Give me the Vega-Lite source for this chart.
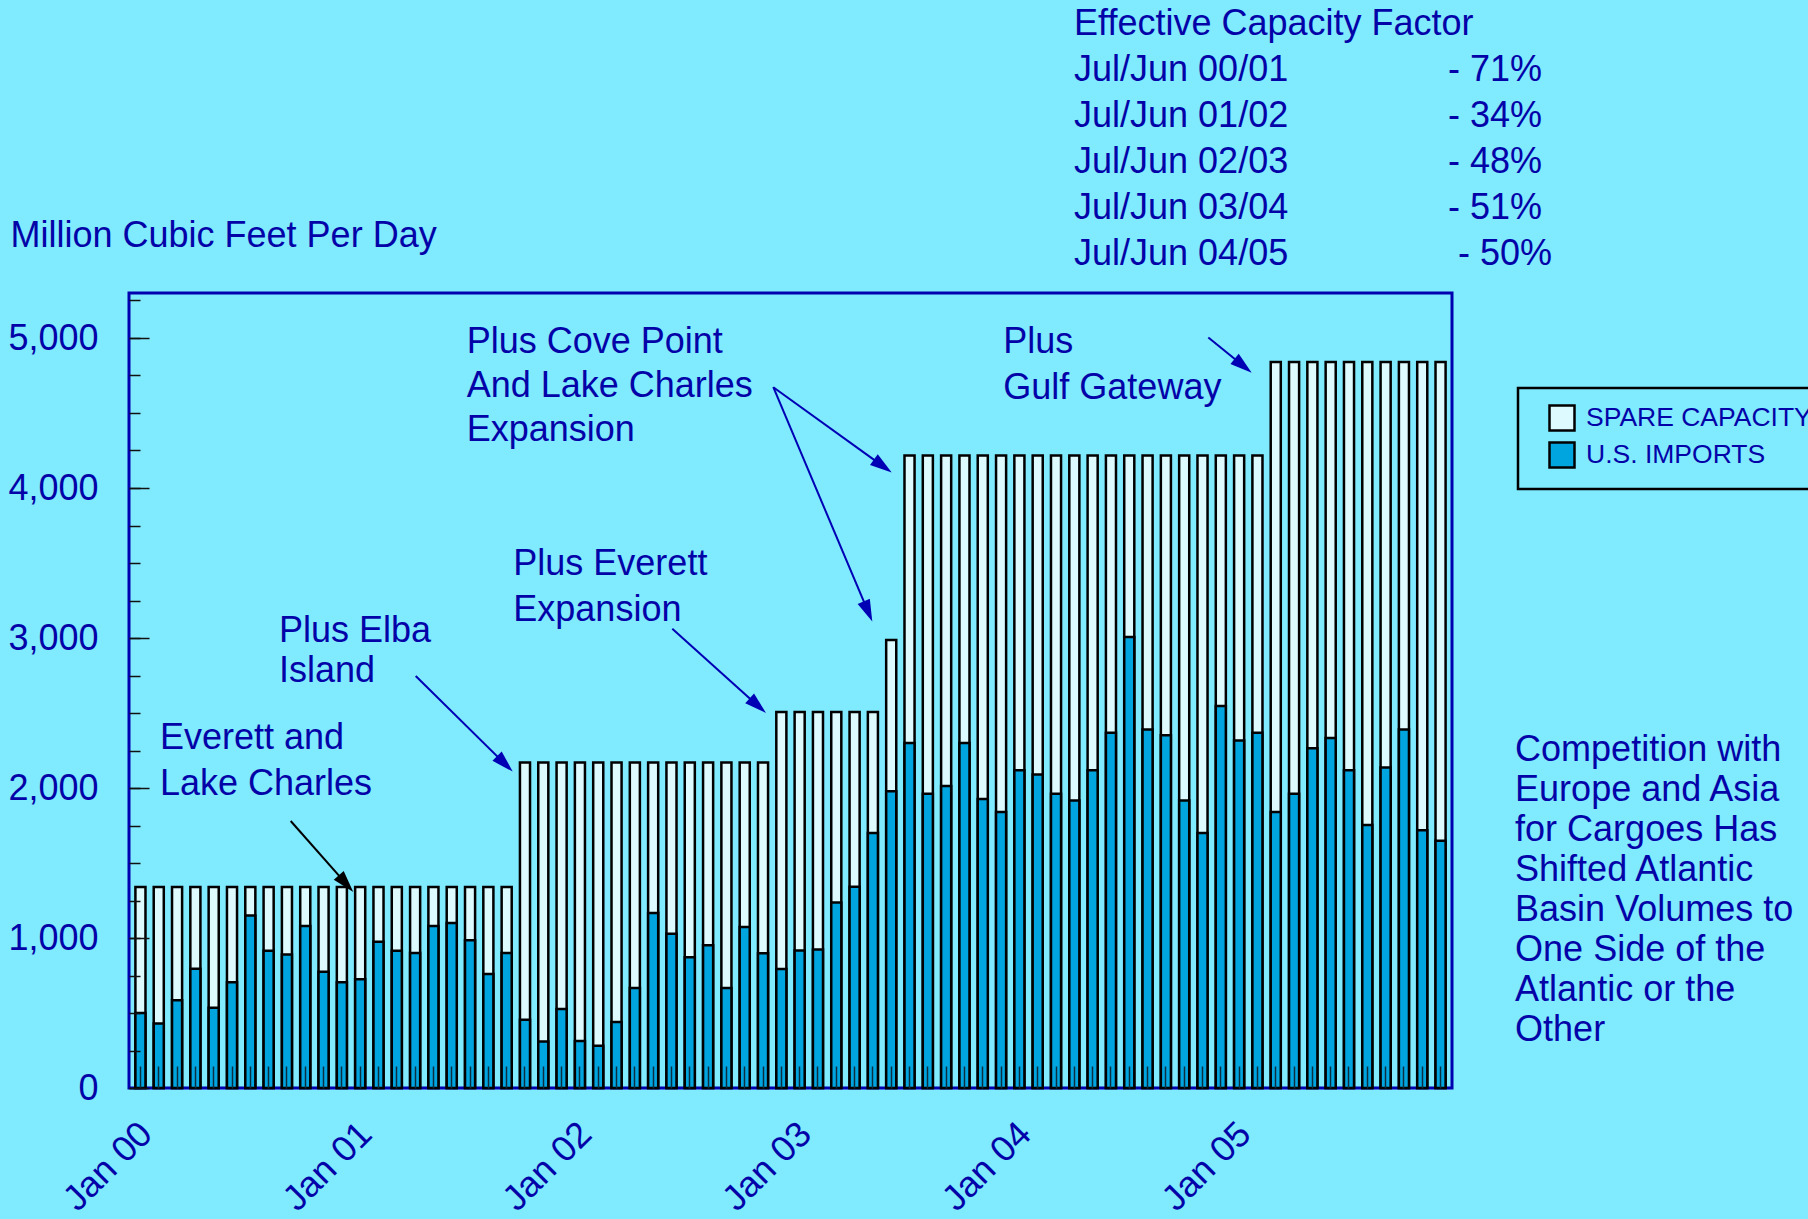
{
  "$schema": "https://vega.github.io/schema/vega-lite/v6.json",
  "width": 1323,
  "height": 795,
  "autosize": {"type": "none"},
  "padding": {"left": 129, "top": 293, "right": 356, "bottom": 131},
  "background": "#80EAFF",
  "config": {
    "font": "Liberation Sans",
    "view": {"stroke": "#0000B0", "strokeWidth": 3},
    "legend": {"strokeWidth": 2.5}
  },
  "datasets": {
    "lng": [
      {"month": "2000-01", "capacity": 1340, "imports": 500},
      {"month": "2000-02", "capacity": 1340, "imports": 430},
      {"month": "2000-03", "capacity": 1340, "imports": 585},
      {"month": "2000-04", "capacity": 1340, "imports": 795},
      {"month": "2000-05", "capacity": 1340, "imports": 535},
      {"month": "2000-06", "capacity": 1340, "imports": 705},
      {"month": "2000-07", "capacity": 1340, "imports": 1150},
      {"month": "2000-08", "capacity": 1340, "imports": 915},
      {"month": "2000-09", "capacity": 1340, "imports": 890},
      {"month": "2000-10", "capacity": 1340, "imports": 1080},
      {"month": "2000-11", "capacity": 1340, "imports": 775},
      {"month": "2000-12", "capacity": 1340, "imports": 705},
      {"month": "2001-01", "capacity": 1340, "imports": 725},
      {"month": "2001-02", "capacity": 1340, "imports": 975},
      {"month": "2001-03", "capacity": 1340, "imports": 915},
      {"month": "2001-04", "capacity": 1340, "imports": 900},
      {"month": "2001-05", "capacity": 1340, "imports": 1080},
      {"month": "2001-06", "capacity": 1340, "imports": 1100},
      {"month": "2001-07", "capacity": 1340, "imports": 985},
      {"month": "2001-08", "capacity": 1340, "imports": 760},
      {"month": "2001-09", "capacity": 1340, "imports": 900},
      {"month": "2001-10", "capacity": 2170, "imports": 455},
      {"month": "2001-11", "capacity": 2170, "imports": 310},
      {"month": "2001-12", "capacity": 2170, "imports": 526},
      {"month": "2002-01", "capacity": 2170, "imports": 314},
      {"month": "2002-02", "capacity": 2170, "imports": 282},
      {"month": "2002-03", "capacity": 2170, "imports": 440},
      {"month": "2002-04", "capacity": 2170, "imports": 666},
      {"month": "2002-05", "capacity": 2170, "imports": 1167},
      {"month": "2002-06", "capacity": 2170, "imports": 1028},
      {"month": "2002-07", "capacity": 2170, "imports": 871},
      {"month": "2002-08", "capacity": 2170, "imports": 951},
      {"month": "2002-09", "capacity": 2170, "imports": 666},
      {"month": "2002-10", "capacity": 2170, "imports": 1073},
      {"month": "2002-11", "capacity": 2170, "imports": 899},
      {"month": "2002-12", "capacity": 2507, "imports": 794},
      {"month": "2003-01", "capacity": 2507, "imports": 916},
      {"month": "2003-02", "capacity": 2507, "imports": 923},
      {"month": "2003-03", "capacity": 2507, "imports": 1237},
      {"month": "2003-04", "capacity": 2507, "imports": 1341},
      {"month": "2003-05", "capacity": 2507, "imports": 1700},
      {"month": "2003-06", "capacity": 2987, "imports": 1979},
      {"month": "2003-07", "capacity": 4217, "imports": 2300},
      {"month": "2003-08", "capacity": 4217, "imports": 1962},
      {"month": "2003-09", "capacity": 4217, "imports": 2014},
      {"month": "2003-10", "capacity": 4217, "imports": 2300},
      {"month": "2003-11", "capacity": 4217, "imports": 1927},
      {"month": "2003-12", "capacity": 4217, "imports": 1840},
      {"month": "2004-01", "capacity": 4217, "imports": 2118},
      {"month": "2004-02", "capacity": 4217, "imports": 2090},
      {"month": "2004-03", "capacity": 4217, "imports": 1962},
      {"month": "2004-04", "capacity": 4217, "imports": 1916},
      {"month": "2004-05", "capacity": 4217, "imports": 2118},
      {"month": "2004-06", "capacity": 4217, "imports": 2369},
      {"month": "2004-07", "capacity": 4217, "imports": 3007},
      {"month": "2004-08", "capacity": 4217, "imports": 2390},
      {"month": "2004-09", "capacity": 4217, "imports": 2352},
      {"month": "2004-10", "capacity": 4217, "imports": 1916},
      {"month": "2004-11", "capacity": 4217, "imports": 1700},
      {"month": "2004-12", "capacity": 4217, "imports": 2547},
      {"month": "2005-01", "capacity": 4217, "imports": 2317},
      {"month": "2005-02", "capacity": 4217, "imports": 2369},
      {"month": "2005-03", "capacity": 4840, "imports": 1840},
      {"month": "2005-04", "capacity": 4840, "imports": 1962},
      {"month": "2005-05", "capacity": 4840, "imports": 2265},
      {"month": "2005-06", "capacity": 4840, "imports": 2334},
      {"month": "2005-07", "capacity": 4840, "imports": 2118},
      {"month": "2005-08", "capacity": 4840, "imports": 1753},
      {"month": "2005-09", "capacity": 4840, "imports": 2136},
      {"month": "2005-10", "capacity": 4840, "imports": 2390},
      {"month": "2005-11", "capacity": 4840, "imports": 1718},
      {"month": "2005-12", "capacity": 4840, "imports": 1648}
    ],
    "notes46": [
      {"text": ["Everett and", "Lake Charles"], "m": 1.068, "v": 2260},
      {"text": ["Plus Everett", "Expansion"], "m": 20.362, "v": 3417},
      {"text": ["Plus", "Gulf Gateway"], "m": 47.122, "v": 4900},
      {"text": ["Effective Capacity Factor", "Jul/Jun 00/01", "Jul/Jun 01/02", "Jul/Jun 02/03", "Jul/Jun 03/04", "Jul/Jun 04/05"], "m": 50.983, "v": 7020},
      {"text": ["- 71%", "- 34%", "- 48%", "- 51%", "\u200b\u00a0- 50%"], "m": 71.408, "v": 6713}
    ],
    "notes44": [
      {"text": ["Plus Cove Point", "And Lake Charles", "Expansion"], "m": 17.817, "v": 4900}
    ],
    "notes40": [
      {"text": ["Plus Elba", "Island"], "m": 7.567, "v": 2973},
      {"text": ["Competition with", "Europe and Asia", "for Cargoes Has", "Shifted Atlantic", "Basin Volumes to", "One Side of the", "Atlantic or the", "Other"], "m": 75.07, "v": 2183}
    ],
    "arrows": [
      {"label": "Everett and Lake Charles", "m1": 8.205, "v1": 1780, "m2": 11.226, "v2": 1362, "angle": 138.6},
      {"label": "Plus Elba Island", "m1": 15.032, "v1": 2747, "m2": 19.903, "v2": 2161, "angle": 134.6},
      {"label": "Plus Everett Expansion", "m1": 29.045, "v1": 3061, "m2": 33.715, "v2": 2549, "angle": 131.9},
      {"label": "Plus Cove Point (a)", "m1": 34.561, "v1": 4672, "m2": 40.541, "v2": 4146, "angle": 125.8},
      {"label": "Plus Cove Point (b)", "m1": 34.561, "v1": 4672, "m2": 39.733, "v2": 3177, "angle": 157.1},
      {"label": "Plus Gulf Gateway", "m1": 58.318, "v1": 5003, "m2": 60.218, "v2": 4815, "angle": 129}
    ]
  },
  "layer": [
    {
      "data": {"name": "lng"},
      "mark": {"type": "bar", "stroke": "#000000", "strokeWidth": 2.5},
      "encoding": {
        "x": {
          "field": "month", "type": "ordinal",
          "scale": {"paddingInner": 0.45, "paddingOuter": 0.35},
          "axis": {
            "orient": "bottom",
            "labelExpr": "substring(datum.value,5,7)=='01' ? 'Jan ' + substring(datum.value,2,4) : ''",
            "labelAngle": -45, "labelAlign": "right", "labelBaseline": "middle",
            "labelFontSize": 36, "labelColor": "#0303A8", "labelPadding": 62, "labelOffset": 6,
            "labelOverlap": false, "labelBound": false,
            "tickSize": -22, "tickColor": "#0B2F40", "tickWidth": 1.5,
            "domain": false, "grid": false, "title": null, "zindex": 1
          }
        },
        "y": {
          "field": "capacity", "type": "quantitative",
          "scale": {"domain": [0, 5300], "nice": false, "zero": false},
          "axis": {
            "orient": "left",
            "values": [0, 1000, 2000, 3000, 4000, 5000], "format": ",d",
            "tickSize": -20, "tickColor": "#111111", "tickWidth": 1.5,
            "domain": false, "grid": false,
            "labelFontSize": 36, "labelColor": "#0303A8", "labelPadding": 51,
            "title": "Million Cubic Feet Per Day", "titleAngle": 0, "titleAlign": "left",
            "titleBaseline": "alphabetic", "titleX": -119, "titleY": -47,
            "titleFontSize": 36, "titleFontWeight": "normal", "titleColor": "#0303A8",
            "zindex": 1
          }
        },
        "color": {
          "datum": "SPARE CAPACITY",
          "scale": {"domain": ["SPARE CAPACITY", "U.S. IMPORTS"], "range": ["#DDFBFF", "#00A5E0"]},
          "legend": {
            "orient": "none", "legendX": 1389, "legendY": 95, "title": null,
            "direction": "vertical", "padding": 16, "fillColor": "#80EAFF",
            "strokeColor": "#000000",
            "symbolType": "square", "symbolSize": 625, "symbolStrokeColor": "#000000",
            "symbolStrokeWidth": 2.5, "symbolOffset": 14, "symbolOpacity": 1,
            "labelOffset": 10, "labelFontSize": 26.5, "labelColor": "#0303A8",
            "rowPadding": 1, "labelLimit": 0
          }
        }
      }
    },
    {
      "data": {"name": "lng"},
      "mark": {"type": "bar", "stroke": "#000000", "strokeWidth": 2.5},
      "encoding": {
        "x": {
          "field": "month", "type": "ordinal",
          "scale": {"paddingInner": 0.45, "paddingOuter": 0.35},
          "axis": null
        },
        "y": {
          "field": "imports", "type": "quantitative",
          "scale": {"domain": [0, 5300], "nice": false, "zero": false},
          "axis": {
            "orient": "left",
            "values": [0, 250, 500, 750, 1000, 1250, 1500, 1750, 2000, 2250, 2500, 2750, 3000, 3250, 3500, 3750, 4000, 4250, 4500, 4750, 5000, 5250],
            "tickSize": -11, "tickColor": "#111111", "tickWidth": 1.5,
            "labels": false, "domain": false, "grid": false, "title": null, "zindex": 1
          }
        },
        "color": {"datum": "U.S. IMPORTS"}
      }
    },
    {
      "data": {"name": "notes46"},
      "mark": {"type": "text", "align": "left", "baseline": "alphabetic", "fontSize": 36, "lineHeight": 46, "color": "#0303A8"},
      "encoding": {
        "x": {"field": "m", "type": "quantitative", "scale": {"domain": [-0.625, 71.625], "nice": false, "zero": false}, "axis": null},
        "y": {"field": "v", "type": "quantitative", "scale": {"domain": [0, 5300], "nice": false, "zero": false}, "axis": null},
        "text": {"field": "text"}
      }
    },
    {
      "data": {"name": "notes44"},
      "mark": {"type": "text", "align": "left", "baseline": "alphabetic", "fontSize": 36, "lineHeight": 44, "color": "#0303A8"},
      "encoding": {
        "x": {"field": "m", "type": "quantitative", "scale": {"domain": [-0.625, 71.625], "nice": false, "zero": false}, "axis": null},
        "y": {"field": "v", "type": "quantitative", "scale": {"domain": [0, 5300], "nice": false, "zero": false}, "axis": null},
        "text": {"field": "text"}
      }
    },
    {
      "data": {"name": "notes40"},
      "mark": {"type": "text", "align": "left", "baseline": "alphabetic", "fontSize": 36, "lineHeight": 40, "color": "#0303A8"},
      "encoding": {
        "x": {"field": "m", "type": "quantitative", "scale": {"domain": [-0.625, 71.625], "nice": false, "zero": false}, "axis": null},
        "y": {"field": "v", "type": "quantitative", "scale": {"domain": [0, 5300], "nice": false, "zero": false}, "axis": null},
        "text": {"field": "text"}
      }
    },
    {
      "data": {"name": "arrows"},
      "mark": {"type": "rule", "strokeWidth": 2},
      "encoding": {
        "x": {"field": "m1", "type": "quantitative", "scale": {"domain": [-0.625, 71.625], "nice": false, "zero": false}, "axis": null},
        "y": {"field": "v1", "type": "quantitative", "scale": {"domain": [0, 5300], "nice": false, "zero": false}, "axis": null},
        "x2": {"field": "m2"},
        "y2": {"field": "v2"},
        "color": {"condition": {"test": "datum.label == 'Everett and Lake Charles'", "value": "#000000"}, "value": "#0000B4"}
      }
    },
    {
      "data": {"name": "arrows"},
      "mark": {"type": "point", "shape": "M0,-1L0.6,1L-0.6,1Z", "filled": true, "size": 484, "opacity": 1, "strokeWidth": 0},
      "encoding": {
        "x": {"field": "m2", "type": "quantitative", "scale": {"domain": [-0.625, 71.625], "nice": false, "zero": false}, "axis": null},
        "y": {"field": "v2", "type": "quantitative", "scale": {"domain": [0, 5300], "nice": false, "zero": false}, "axis": null},
        "angle": {"field": "angle", "type": "quantitative", "scale": null},
        "color": {"condition": {"test": "datum.label == 'Everett and Lake Charles'", "value": "#000000"}, "value": "#0000B4"}
      }
    }
  ],
  "resolve": {
    "scale": {"x": "independent", "y": "shared"},
    "axis": {"x": "independent", "y": "independent"}
  }
}
